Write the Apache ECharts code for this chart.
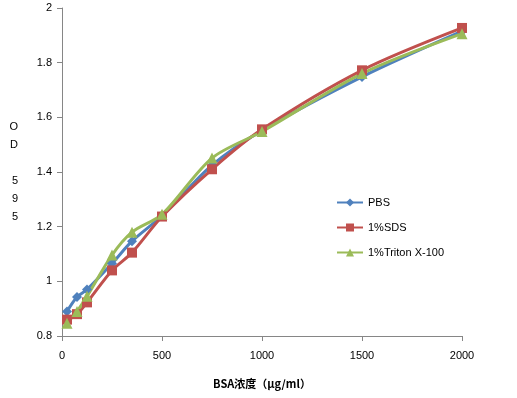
<!DOCTYPE html>
<html>
<head>
<meta charset="utf-8">
<script src="https://cdn.jsdelivr.net/npm/echarts@6/dist/echarts.min.js"></script>
<style>
  html, body { margin: 0; padding: 0; background: #fff; }
  #chart { width: 517px; height: 398px; }
</style>
</head>
<body>
<div id="chart"></div>
<script>
// BSA 浓度 (μg/ml)
const concentrations = [25, 75, 125, 250, 350, 500, 750, 1000, 1500, 2000]
const pbs    = [0.89, 0.943, 0.97, 1.065, 1.147, 1.24, 1.425, 1.552, 1.748, 1.915]
const sds    = [0.86, 0.88, 0.923, 1.04, 1.105, 1.237, 1.41, 1.556, 1.772, 1.927]
const triton = [0.847, 0.89, 0.945, 1.096, 1.18, 1.245, 1.451, 1.548, 1.76, 1.906]
const seriesNames = ['PBS', '1%SDS', '1%Triton X-100']
const colors = ['#4F81BD', '#C0504D', '#9BBB59']

function pairs(ys) {
  return concentrations.map((x, i) => [x, ys[i]])
}

const chart = echarts.init(document.getElementById('chart'))
const font = 'Liberation Sans, DejaVu Sans, sans-serif'
const axisColor = '#868686'

chart.setOption({
  animation: false,
  color: colors,
  textStyle: { fontFamily: font },
  grid: { left: 62, right: 55, top: 8, bottom: 62 },
  legend: {
    orient: 'vertical',
    left: 331,
    top: 192,
    itemWidth: 26,
    itemHeight: 10,
    itemGap: 14,
    textStyle: { fontSize: 11, color: '#000', fontFamily: font },
    data: seriesNames
  },
  xAxis: {
    type: 'value',
    min: 0,
    max: 2000,
    interval: 500,
    name: 'BSA浓度（μg/ml）',
    nameLocation: 'middle',
    nameGap: 42,
    nameTextStyle: { fontSize: 11, color: '#000', fontWeight: 'bold', fontFamily: 'Noto Sans CJK SC, sans-serif' },
    axisLine: { lineStyle: { color: axisColor } },
    axisTick: { length: 5, lineStyle: { color: axisColor } },
    axisLabel: { fontSize: 11, color: '#000', margin: 14, formatter: v => String(v) },
    splitLine: { show: false }
  },
  yAxis: {
    type: 'value',
    min: 0.8,
    max: 2,
    interval: 0.2,
    name: 'O\nD\n\n5\n9\n5',
    nameLocation: 'middle',
    nameRotate: 0,
    nameGap: 44,
    nameTextStyle: { fontSize: 11, color: '#000', lineHeight: 18, fontFamily: font },
    axisLine: { show: true, lineStyle: { color: axisColor } },
    axisTick: { show: true, length: 5, lineStyle: { color: axisColor } },
    axisLabel: { fontSize: 11, color: '#000', margin: 10 },
    splitLine: { show: false }
  },
  series: [
    {
      name: seriesNames[0], type: 'line', smooth: 0.3,
      symbol: 'diamond', symbolSize: 10,
      lineStyle: { width: 3 },
      data: pairs(pbs)
    },
    {
      name: seriesNames[1], type: 'line', smooth: 0.3,
      symbol: 'rect', symbolSize: 10,
      lineStyle: { width: 3 },
      data: pairs(sds)
    },
    {
      name: seriesNames[2], type: 'line', smooth: 0.3,
      symbol: 'triangle', symbolSize: 11,
      lineStyle: { width: 3 },
      data: pairs(triton)
    }
  ]
})
</script>
</body>
</html>
